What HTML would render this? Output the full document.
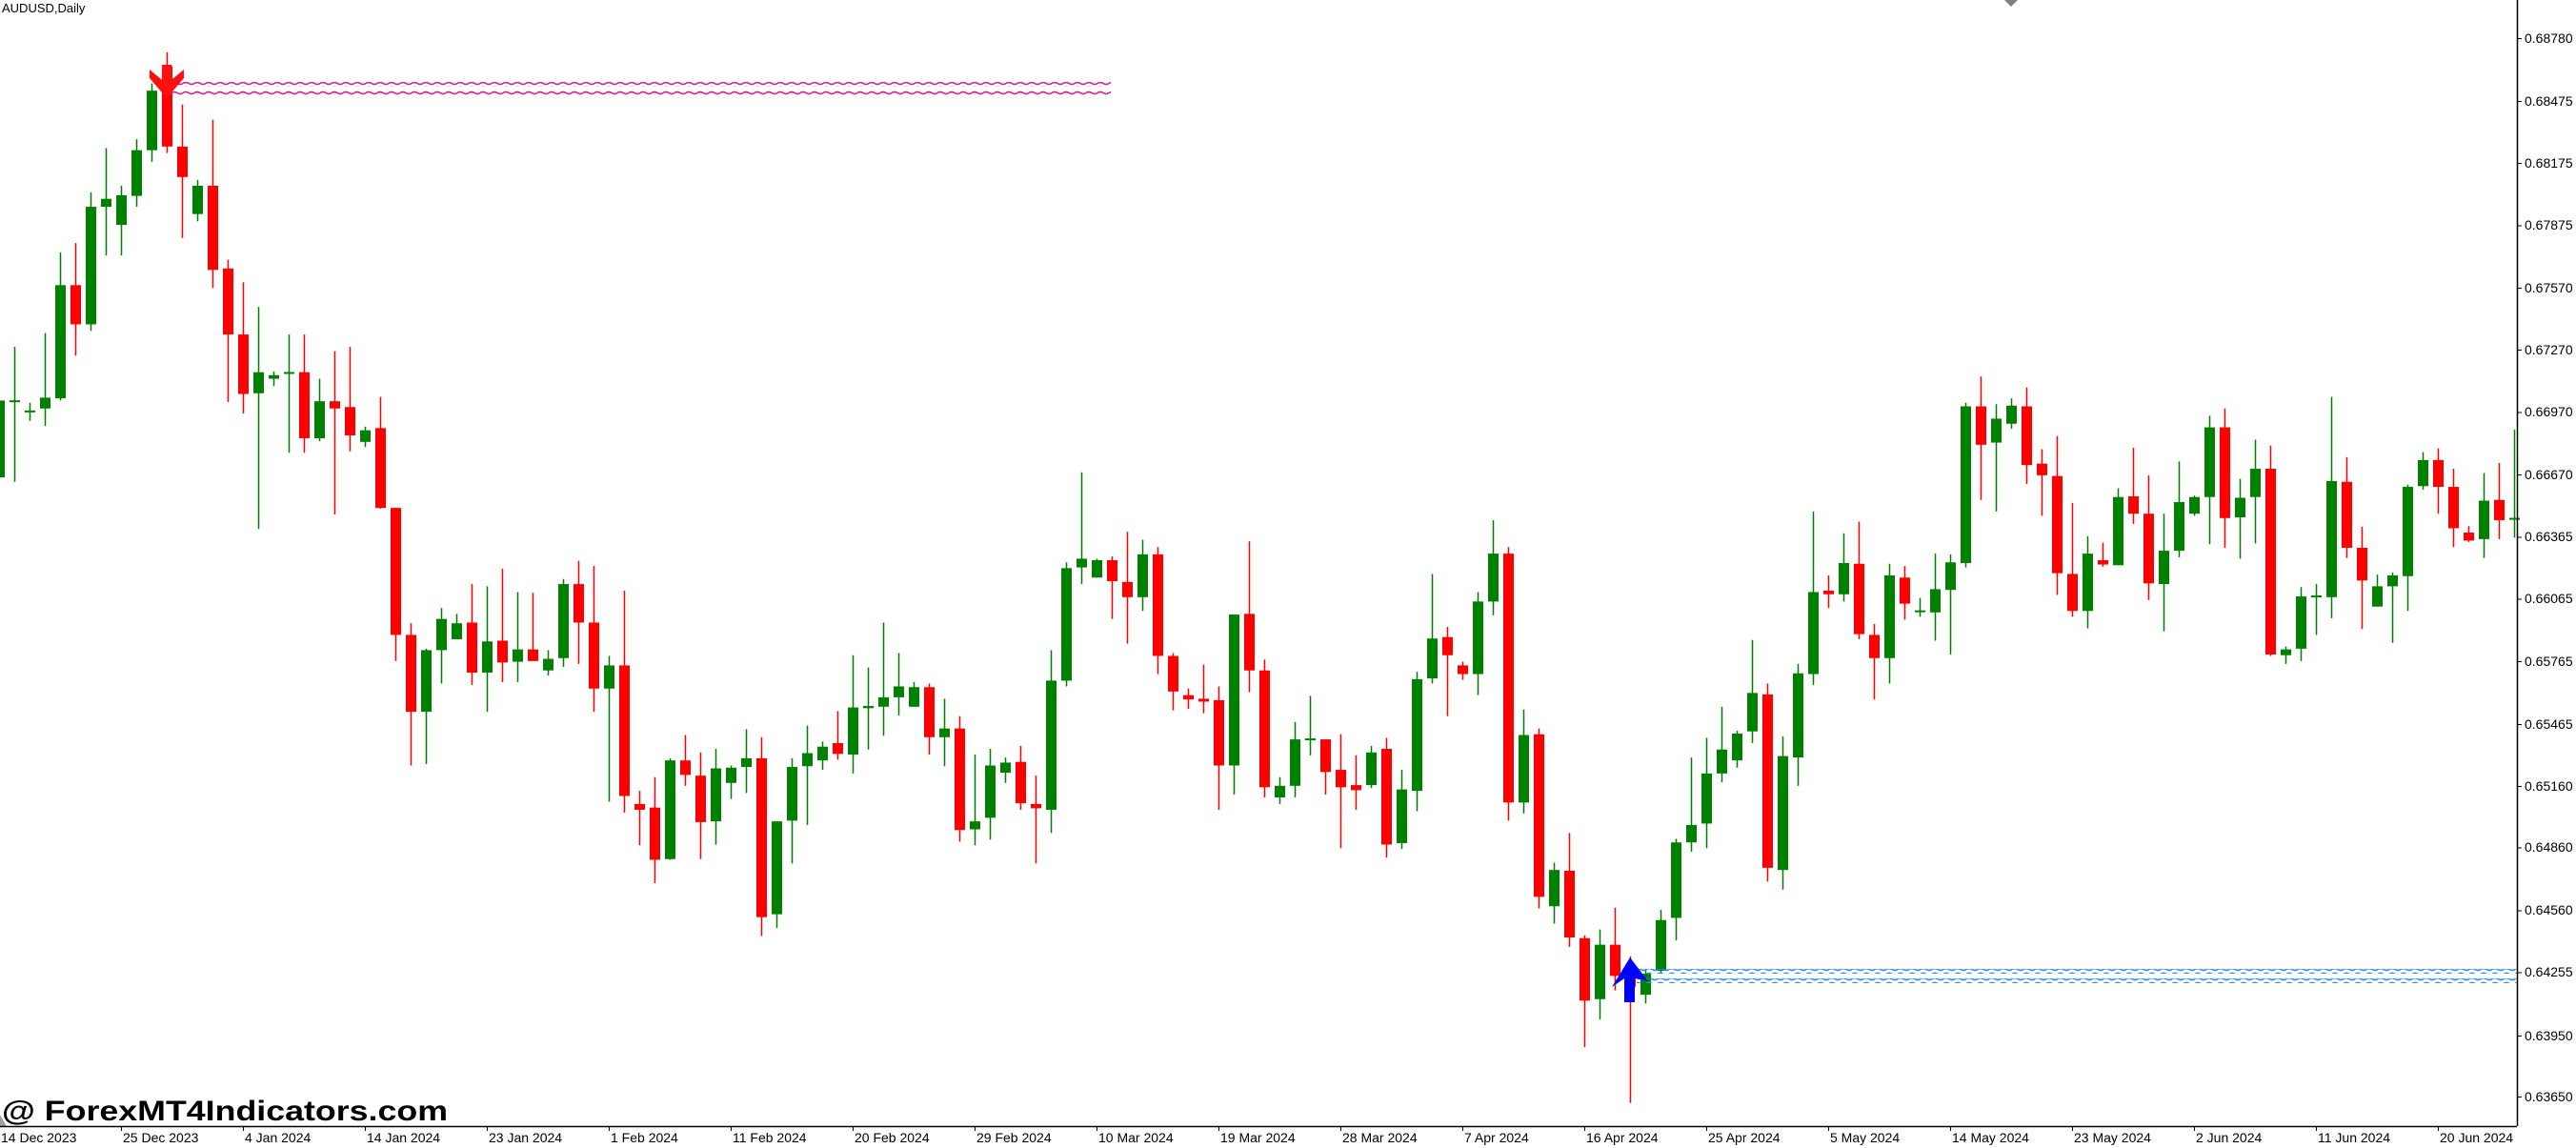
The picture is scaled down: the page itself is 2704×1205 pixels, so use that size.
<!DOCTYPE html>
<html><head><meta charset="utf-8"><style>
html,body{margin:0;padding:0;background:#fff;}
svg{display:block;}
</style></head><body>
<svg id="c" width="2704" height="1205" viewBox="0 0 2704 1205" xmlns="http://www.w3.org/2000/svg">
<defs>
<pattern id="wp" width="12" height="5" patternUnits="userSpaceOnUse"><path d="M0 2.5 Q3 0.5 6 2.5 T12 2.5" fill="none" stroke="#d4229a" stroke-width="1.6"/></pattern>
<pattern id="wb" width="12" height="5" patternUnits="userSpaceOnUse"><path d="M0 2.5 Q3 0.5 6 2.5 T12 2.5" fill="none" stroke="#2a8cff" stroke-width="1.6"/></pattern>
</defs>
<rect width="2704" height="1205" fill="#fff"/>
<g id="cand"></g>
<!-- pink lines -->
<rect x="180" y="86" width="986" height="5" fill="url(#wp)"/>
<rect x="180" y="95" width="986" height="5" fill="url(#wp)"/>
<!-- blue lines -->
<rect x="1718" y="1017" width="924" height="5" fill="url(#wb)"/>
<rect x="1718" y="1027" width="924" height="5" fill="url(#wb)"/>
<!-- red arrow -->
<polygon points="157,73 175,88 193,73 193,82 175,103 157,82" fill="#ff1010"/>
<rect x="170" y="68" width="10" height="26" fill="#ff1010"/>
<!-- blue arrow -->
<polygon points="1692,1036 1711,1005 1730,1030 1716,1027 1716,1052 1705,1052 1705,1027" fill="#0000ff"/>
<!-- gray marker -->
<polygon points="2104,0 2118,0 2111,7" fill="#808080"/>
<polygon points="0,1170 0,1182 7,1182" fill="#a0a0a0"/>
<!-- axes -->
<line x1="2642.5" y1="0" x2="2642.5" y2="1182" stroke="#000" stroke-width="1.5"/>
<line x1="0" y1="1182.5" x2="2642" y2="1182.5" stroke="#000" stroke-width="1.5"/>
<g font-family="Liberation Sans, sans-serif" font-size="14" fill="#000" id="ylab">
<text x="2650" y="45">0.68780</text>
<text x="2650" y="111">0.68475</text>
<text x="2650" y="176">0.68175</text>
<text x="2650" y="241">0.67875</text>
<text x="2650" y="307">0.67570</text>
<text x="2650" y="372">0.67270</text>
<text x="2650" y="437">0.66970</text>
<text x="2650" y="503">0.66670</text>
<text x="2650" y="568">0.66365</text>
<text x="2650" y="633">0.66065</text>
<text x="2650" y="699">0.65765</text>
<text x="2650" y="765">0.65465</text>
<text x="2650" y="830">0.65160</text>
<text x="2650" y="894">0.64860</text>
<text x="2650" y="960">0.64560</text>
<text x="2650" y="1025">0.64255</text>
<text x="2650" y="1092">0.63950</text>
<text x="2650" y="1156">0.63650</text>
</g>
<g stroke="#000" stroke-width="1" id="yt">
<line x1="2642" y1="40.5" x2="2647" y2="40.5"/><line x1="2642" y1="106.5" x2="2647" y2="106.5"/><line x1="2642" y1="171.5" x2="2647" y2="171.5"/><line x1="2642" y1="237" x2="2647" y2="237"/><line x1="2642" y1="302.5" x2="2647" y2="302.5"/><line x1="2642" y1="367.5" x2="2647" y2="367.5"/><line x1="2642" y1="433" x2="2647" y2="433"/><line x1="2642" y1="498.5" x2="2647" y2="498.5"/><line x1="2642" y1="564" x2="2647" y2="564"/><line x1="2642" y1="629" x2="2647" y2="629"/><line x1="2642" y1="694.5" x2="2647" y2="694.5"/><line x1="2642" y1="760.5" x2="2647" y2="760.5"/><line x1="2642" y1="825.5" x2="2647" y2="825.5"/><line x1="2642" y1="890" x2="2647" y2="890"/><line x1="2642" y1="956" x2="2647" y2="956"/><line x1="2642" y1="1021" x2="2647" y2="1021"/><line x1="2642" y1="1087.5" x2="2647" y2="1087.5"/><line x1="2642" y1="1151.5" x2="2647" y2="1151.5"/>
</g>
<g font-family="Liberation Sans, sans-serif" font-size="14" fill="#000">
<text x="1" y="1199">14 Dec 2023</text>
<text x="129" y="1199">25 Dec 2023</text>
<text x="257" y="1199">4 Jan 2024</text>
<text x="385" y="1199">14 Jan 2024</text>
<text x="513" y="1199">23 Jan 2024</text>
<text x="641" y="1199">1 Feb 2024</text>
<text x="769" y="1199">11 Feb 2024</text>
<text x="897" y="1199">20 Feb 2024</text>
<text x="1025" y="1199">29 Feb 2024</text>
<text x="1153" y="1199">10 Mar 2024</text>
<text x="1281" y="1199">19 Mar 2024</text>
<text x="1409" y="1199">28 Mar 2024</text>
<text x="1537" y="1199">7 Apr 2024</text>
<text x="1665" y="1199">16 Apr 2024</text>
<text x="1793" y="1199">25 Apr 2024</text>
<text x="1921" y="1199">5 May 2024</text>
<text x="2049" y="1199">14 May 2024</text>
<text x="2177" y="1199">23 May 2024</text>
<text x="2305" y="1199">2 Jun 2024</text>
<text x="2433" y="1199">11 Jun 2024</text>
<text x="2561" y="1199">20 Jun 2024</text>
</g>
<g id="xt" stroke="#000" stroke-width="1"></g>
<text x="2" y="13" font-family="Liberation Sans, sans-serif" font-size="13" fill="#000">AUDUSD,Daily</text>
<text x="2" y="1176" font-family="Liberation Sans, sans-serif" font-size="30" font-weight="bold" fill="#000" textLength="468" lengthAdjust="spacingAndGlyphs">@ ForexMT4Indicators.com</text>
</svg>
<script>
var D=[[1,552,658,552,658],[1,552,554,478,664],[1,566,568,555,580],[1,548,563,459,587],[1,393,549,348,552],[0,393,447,335,490],[1,285,447,265,456],[1,274,285,204,352],[1,269,310,256,352],[1,207,270,192,285],
[1,125,207,115,223],[0,91,202,72,211],[0,202,244,144,328],[1,256,295,248,305],[0,256,372,165,397],[0,370,461,358,554],[0,461,543,389,570],[1,513,542,423,729],[1,517,522,512,532],[1,513,515,461,624],
[0,513,604,461,624],[1,553,604,522,608],[0,553,563,484,709],[0,561,600,478,622],[1,593,609,588,616],[0,590,700,547,701],[0,700,875,700,911],[0,875,981,859,1055],[1,896,981,894,1053],[1,853,896,838,942],
[1,859,881,846,881],[0,858,927,805,944],[1,884,927,808,981],[0,883,913,784,940],
[1,895,912,816,940],[0,895,911,817,911],[1,908,924,896,931],[1,805,907,798,919],[0,805,858,773,915],[0,858,949,780,981],[1,917,949,904,1105],[0,917,1097,814,1120],[0,1108,1116,1090,1165],[0,1113,1185,1071,1217],
[1,1048,1184,1045,1185],[0,1048,1068,1013,1083],[0,1069,1133,1037,1184],[1,1059,1132,1032,1164],[1,1058,1079,1055,1101],[1,1045,1057,1005,1093],[0,1045,1264,1016,1290],[1,1132,1260,1132,1279],[1,1057,1131,1045,1190],[1,1038,1056,1000,1137],
[1,1029,1048,1022,1061],[0,1024,1039,980,1047],[1,975,1040,903,1066],[1,973,976,920,1033],[1,961,974,858,1014],[1,946,961,900,986],[1,947,974,940,974],[0,947,1016,942,1040],[1,1004,1016,963,1056],[0,1004,1144,987,1160],
[1,1132,1143,1040,1165],[1,1055,1127,1032,1157],[1,1051,1065,1044,1079],[0,1050,1107,1028,1116],
[0,1108,1114,1069,1190],[1,938,1116,896,1148],[1,783,938,775,946],[1,770,782,651,805],[1,772,796,770,796],[0,772,801,767,853],[0,802,823,733,887],[1,764,823,744,842],[0,764,904,754,929],[0,904,953,900,979],
[0,958,964,949,977],[0,963,967,916,983],[0,965,1055,946,1116],[1,847,1055,847,1095],[0,846,924,746,954],[0,924,1085,909,1099],[1,1083,1099,1071,1108],[1,1019,1083,995,1099],[1,1018,1020,959,1041],[0,1019,1064,1019,1095],
[0,1061,1085,1012,1169],[0,1082,1089,1041,1116],[1,1037,1082,1028,1086],[0,1032,1164,1017,1182],[1,1088,1162,1061,1170],[1,936,1090,926,1118],[1,880,935,791,942],[0,878,903,864,987],[0,917,929,912,937],[1,829,929,816,958],
[1,763,829,717,848],[0,763,1106,754,1131],[1,1013,1106,978,1121],[0,1012,1236,1004,1252],
[1,1199,1249,1189,1273],[0,1200,1292,1148,1305],[0,1293,1379,1289,1443],[1,1302,1377,1281,1405],[0,1302,1345,1251,1365],[0,1340,1360,1318,1520],[1,1342,1371,1336,1383],[1,1268,1338,1254,1342],[1,1161,1265,1156,1296],[1,1137,1161,1044,1174],
[1,1066,1135,1017,1169],[1,1033,1066,974,1078],[1,1011,1048,1007,1058],[1,955,1008,882,1024],[0,957,1196,942,1215],[1,1042,1199,1015,1226],[1,928,1044,915,1083],[1,816,929,705,944],[0,814,819,793,838],[1,776,819,735,829],
[0,777,874,719,881],[0,875,907,860,964],[1,793,907,777,942],[0,796,832,780,854],[1,842,843,824,850],[1,812,844,763,883],[1,775,813,764,902],[1,560,776,555,782],[0,560,613,519,689],[1,577,610,557,705],
[1,559,584,549,591],[0,560,641,534,667],[0,639,655,619,711],[0,656,790,601,820],
[0,791,842,693,850],[1,763,842,739,866],[0,772,778,748,781],[1,685,779,673,779],[0,684,708,617,722],[0,708,804,655,827],[1,759,805,708,870],[1,692,759,636,768],[1,685,708,683,711],[1,589,685,573,750],
[0,589,714,563,755],[1,686,713,660,770],[1,646,685,606,749],[0,646,902,614,904],[1,895,903,891,915],[1,822,894,809,911],[1,821,823,805,875],[1,663,823,547,852],[0,664,755,630,769],[0,755,800,726,867],
[1,808,836,792,836],[1,793,808,789,886],[1,671,794,668,842],[1,634,670,623,675],[0,634,671,618,708],[0,671,728,646,754],[0,734,745,725,747],[1,690,743,652,769],[0,689,717,638,743],[1,714,716,592,741]];
var K=1.313,s='',ns='http://www.w3.org/2000/svg';
for(var i=0;i<D.length;i++){var d=D[i],c=16*i-0.5,col=d[0]?'#008000':'#ff0000';
var t=d[1]/K,b=d[2]/K,h=d[3]/K,l=d[4]/K;if(b-t<2){var m=(t+b)/2;t=m-1;b=m+1;}
s+='<rect x="'+(c-0.75)+'" y="'+h+'" width="1.5" height="'+(l-h)+'" fill="'+col+'"/>';
s+='<rect x="'+(c-5.5)+'" y="'+t+'" width="11" height="'+(b-t)+'" fill="'+col+'"/>';}
document.getElementById('cand').innerHTML=s;
var x='';for(var j=8;j<=160;j+=8){var xx=16*j-0.5;x+='<line x1="'+xx+'" y1="1182" x2="'+xx+'" y2="1187"/>';}
document.getElementById('xt').innerHTML=x;
</script>
</body></html>
